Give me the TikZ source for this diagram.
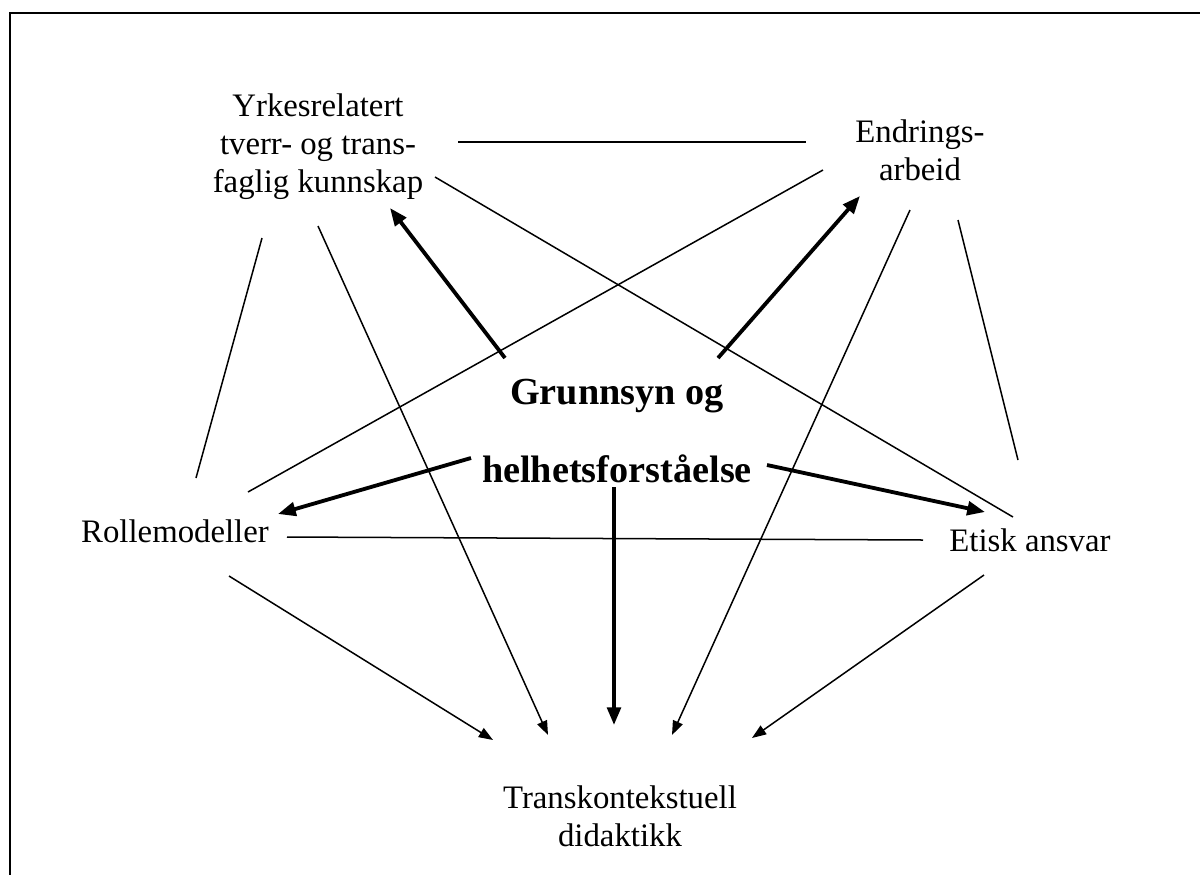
\documentclass[tikz,border=0pt]{standalone}
\usepackage{fontspec}
\setmainfont{Liberation Serif}
\usetikzlibrary{arrows.meta}
\begin{document}
\begin{tikzpicture}[x=0.366pt,y=-0.366pt,
  lbl/.style={inner sep=0pt,align=center,font=\fontsize{12}{13.9}\selectfont},
  core/.style={inner sep=0pt,align=center,font=\bfseries\fontsize{14}{28.4}\selectfont},
  thin/.style={line width=0.55pt},
  thinarr/.style={line width=0.55pt,-{Triangle[length=5.2pt,width=3.8pt]}},
  bold/.style={line width=1.4pt,-{Triangle[length=6.5pt,width=5pt]}},
  frame/.style={line width=0.75pt}]
\useasboundingbox (0,0) rectangle (1200,874);
\draw[frame] (1300,1000) |- (10,13) -- (10,1000);
\node[lbl] (yrk) at (318,147) {Yrkesrelatert\\tverr- og trans-\\faglig kunnskap};
\node[lbl] (end) at (920,150) {Endrings-\\arbeid};
\node[core] (grun) at (617,431) {Grunnsyn og\\helhetsforståelse};
\node[lbl] (rol) at (175,531) {Rollemodeller};
\node[lbl] (eti) at (1030,540) {Etisk ansvar};
\node[lbl] (tra) at (620,816) {Transkontekstuell\\didaktikk};
% thin lines
\draw[thin] ([shift={(140,-5)}]yrk.center) -- ([shift={(-114,-8)}]end.center);
\draw[thin] ([shift={(-56,91)}]yrk.center) -- ([shift={(21,-53)}]rol.center);
\draw[thinarr] ([shift={(0,79)}]yrk.center) -- ([shift={(-72,-81)}]tra.center);
\draw[thin] ([shift={(117,30)}]yrk.center) -- ([shift={(-17,-23)}]eti.center);
\draw[thin] ([shift={(-97,20)}]end.center) -- ([shift={(73,-39)}]rol.center);
\draw[thinarr] ([shift={(-10,60)}]end.center) -- ([shift={(52,-81)}]tra.center);
\draw[thin] ([shift={(38,70)}]end.center) -- ([shift={(-12,-80)}]eti.center);
\draw[thin] ([shift={(112,6)}]rol.center) -- ([shift={(-107,0)}]eti.center);
\draw[thinarr] ([shift={(54,45)}]rol.center) -- ([shift={(-127,-76)}]tra.center);
\draw[thinarr] ([shift={(-46,35)}]eti.center) -- ([shift={(132,-78)}]tra.center);
% bold arrows
\draw[bold] ([shift={(-112,-73)}]grun.center) -- ([shift={(72,61)}]yrk.center);
\draw[bold] ([shift={(101,-73)}]grun.center) -- ([shift={(-60,46)}]end.center);
\draw[bold] ([shift={(-146,27)}]grun.center) -- ([shift={(103,-17)}]rol.center);
\draw[bold] ([shift={(150,34)}]grun.center) -- ([shift={(-45,-28)}]eti.center);
\draw[bold] ([shift={(-3,56)}]grun.center) -- ([shift={(-6,-91)}]tra.center);
\end{tikzpicture}
\end{document}
